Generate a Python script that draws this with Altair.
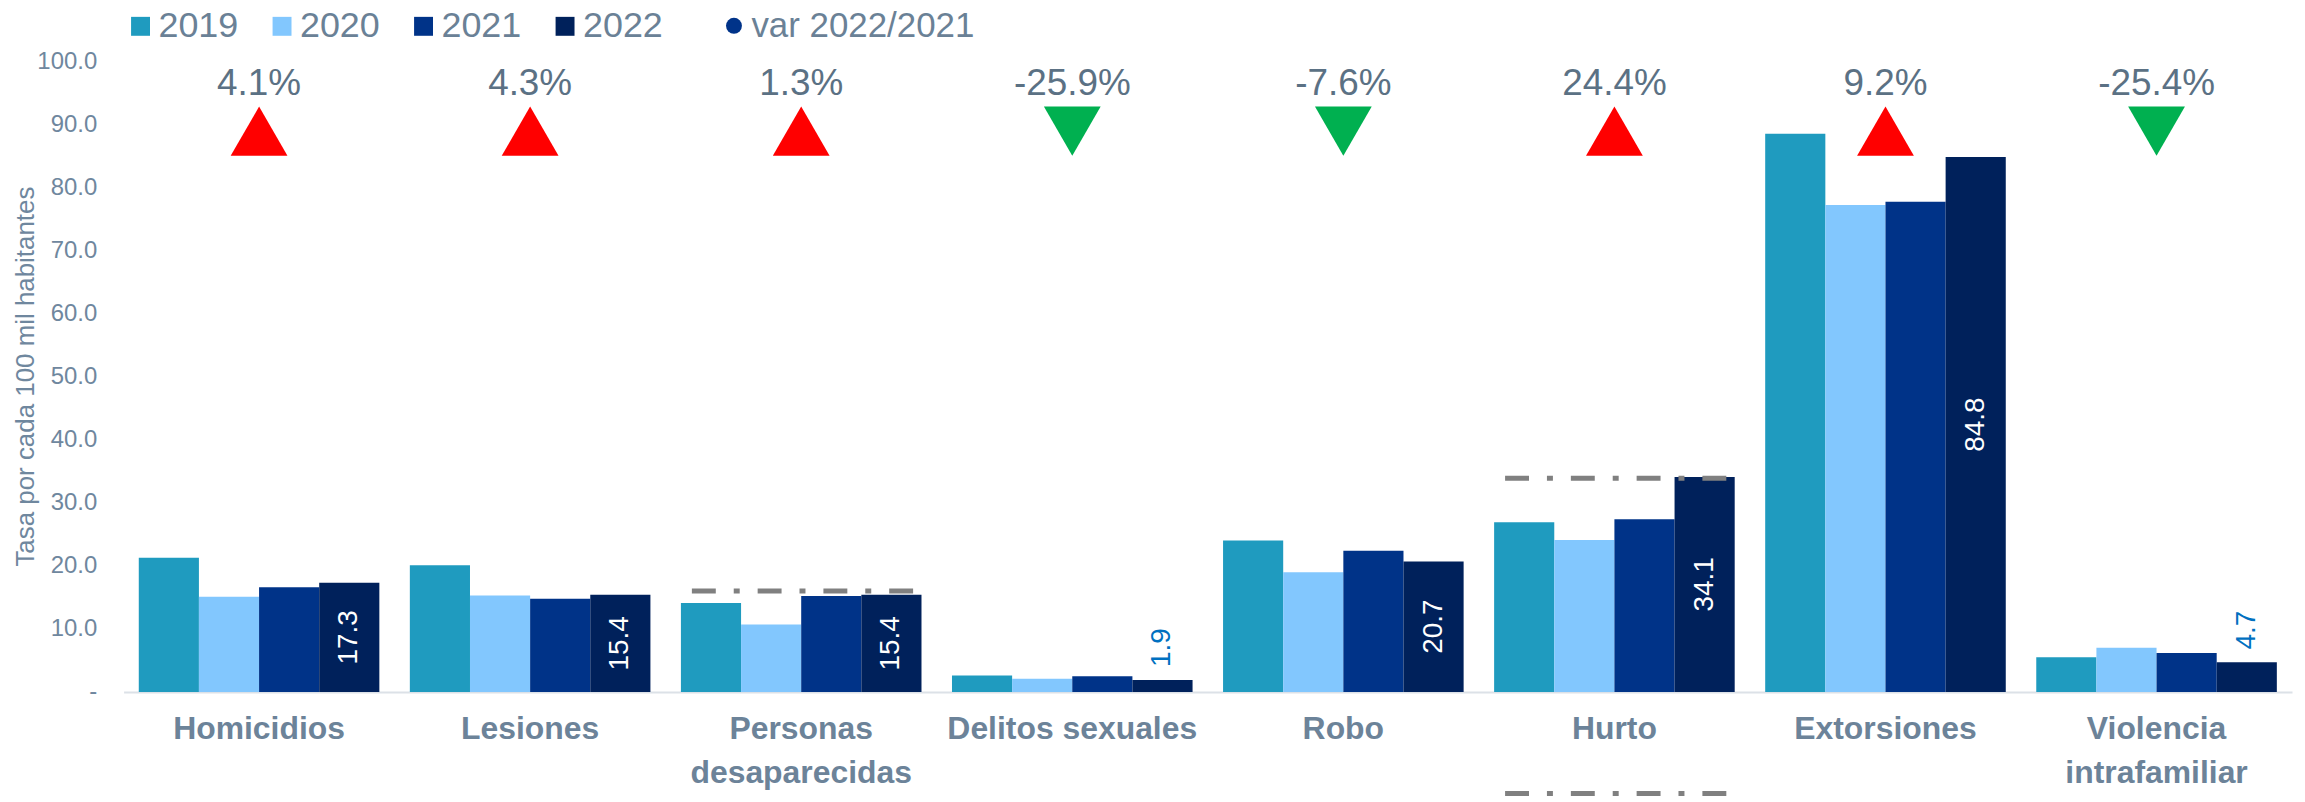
import altair as alt
import pandas as pd

cats = ["Homicidios", "Lesiones", "Personas\ndesaparecidas", "Delitos sexuales",
        "Robo", "Hurto", "Extorsiones", "Violencia\nintrafamiliar"]
years = ["2019", "2020", "2021", "2022"]
v2019 = [21.3, 20.1, 14.1, 2.6, 24.0, 26.9, 88.5, 5.5]
v2020 = [15.1, 15.3, 10.7, 2.1, 19.0, 24.1, 77.2, 7.0]
v2021 = [16.6, 14.8, 15.2, 2.5, 22.4, 27.4, 77.7, 6.2]
v2022 = [17.3, 15.4, 15.4, 1.9, 20.7, 34.1, 84.8, 4.7]
var_pct = [4.1, 4.3, 1.3, -25.9, -7.6, 24.4, 9.2, -25.4]
ref_cats = ["Personas\ndesaparecidas", "Hurto", "Hurto"]
ref_vals = [16.0, 33.9, -16.1]
colors = ["#1F9BBF", "#82C7FE", "#003388", "#00215B"]

rows = []
for yr, vals in zip(years, [v2019, v2020, v2021, v2022]):
    for c, v in zip(cats, vals):
        rows.append({"cat": c, "anio": yr, "v": v})
bars_df = pd.DataFrame(rows)
var_df = pd.DataFrame({"cat": cats, "var": var_pct})
ref_df = pd.DataFrame({"cat": ref_cats, "v": ref_vals})
leg_df = pd.DataFrame({"cat": [cats[0]], "lbl": ["var 2022/2021"]})

FONT = "Liberation Sans, Arial, Helvetica, sans-serif"
TICK_C = "#6F879E"
CAT_C = "#6C8399"
PCT_C = "#5B7184"
LEG_C = "#6A8196"

xscale = alt.Scale(domain=cats, paddingInner=0.1125, paddingOuter=0.056)
yscale = alt.Scale(domain=[0, 100], nice=False, zero=True)
offscale = alt.Scale(domain=years, paddingInner=0, paddingOuter=0)

x_axis = alt.Axis(
    title=None, labelAngle=0, ticks=False, domainColor="#DCE1E7", domainWidth=2,
    labelFont=FONT, labelFontSize=32, labelFontWeight="bold", labelColor=CAT_C,
    labelPadding=22, labelLineHeight=44, labelLimit=400,
    labelExpr="split(datum.label, '\\n')")

y_axis = alt.Axis(
    title="Tasa por cada 100 mil habitantes", values=list(range(0, 101, 10)),
    labelExpr="datum.value == 0 ? '-\u00a0\u00a0' : format(datum.value, '.1f')",
    ticks=False, domain=False, grid=False,
    labelFont=FONT, labelFontSize=24, labelColor=TICK_C, labelPadding=27,
    titleFont=FONT, titleFontSize=26, titleFontWeight="normal", titleColor=TICK_C,
    titleX=-98, titleY=316, titleAngle=270, titleAlign="center", titleBaseline="middle")


def X(**kw):
    return alt.X("cat:N", scale=xscale, sort=cats, axis=x_axis, **kw)


def Yf(field):
    return alt.Y(field, type="quantitative", scale=yscale, axis=y_axis,
                 title="Tasa por cada 100 mil habitantes")


def Yd(val):
    return alt.Y(datum=val, type="quantitative", scale=yscale, axis=y_axis,
                 title="Tasa por cada 100 mil habitantes")


XO = alt.XOffset("anio:N", sort=years, scale=offscale)

bars = alt.Chart(bars_df).mark_bar().encode(
    x=X(), xOffset=XO, y=Yf("v"),
    color=alt.Color("anio:N", sort=years, scale=alt.Scale(domain=years, range=colors),
                    legend=alt.Legend(title=None, orient="none", legendX=-1, legendY=-53,
                                      direction="horizontal", symbolType="square",
                                      symbolSize=361, symbolStrokeWidth=0,
                                      labelFont=FONT, labelFontSize=36, labelColor=LEG_C,
                                      labelOffset=0, columnPadding=25, padding=0,
                                      labelLimit=400)))

lab_in = alt.Chart(bars_df).transform_filter(
    "datum.anio == '2022' && datum.v >= 10"
).transform_calculate(
    mid="datum.v / 2", txt="format(datum.v, '.1f')"
).mark_text(angle=270, align="center", baseline="middle", font=FONT, fontSize=28,
            color="white").encode(
    x=X(), xOffset=XO, y=Yf("mid"), text="txt:N")

lab_out = alt.Chart(bars_df).transform_filter(
    "datum.anio == '2022' && datum.v < 10"
).transform_calculate(
    txt="format(datum.v, '.1f')"
).mark_text(angle=270, align="left", baseline="middle", dx=13, font=FONT, fontSize=28,
            color="#0070C0").encode(
    x=X(), xOffset=XO, y=Yf("v"), text="txt:N")

pct = alt.Chart(var_df).transform_calculate(
    txt="(datum['var'] < 0 ? '-' : '') + format(abs(datum['var']), '.1f') + '%'"
).mark_text(font=FONT, fontSize=37, color=PCT_C, baseline="alphabetic", align="center").encode(
    x=X(), y=Yd(94.6), text="txt:N")

tri_up = alt.Chart(var_df).transform_filter("datum['var'] > 0").mark_point(
    shape="triangle-up", filled=True, size=3249, color="#FF0000", opacity=1, strokeWidth=0
).encode(x=X(), y=Yd(88.9))

tri_dn = alt.Chart(var_df).transform_filter("datum['var'] < 0").mark_point(
    shape="triangle-down", filled=True, size=3249, color="#00B050", opacity=1, strokeWidth=0
).encode(x=X(), y=Yd(88.9))

refs = alt.Chart(ref_df).mark_rule(
    strokeDash=[24, 18, 6, 18], strokeWidth=5, color="#808080", strokeCap="butt",
    xOffset=11, x2Offset=-6
).encode(
    x=X(bandPosition=0),
    x2=alt.X2("cat:N", bandPosition=1),
    y=Yf("v"))

leg = alt.Chart(leg_df).mark_point(filled=True, opacity=0, color="#003389").encode(
    x=X(), y=Yd(50),
    shape=alt.Shape("lbl:N", scale=alt.Scale(domain=["var 2022/2021"], range=["circle"]),
                    legend=alt.Legend(title=None, orient="none", legendX=595, legendY=-53,
                                      symbolSize=256, symbolFillColor="#003389",
                                      symbolStrokeWidth=0, symbolOpacity=1,
                                      labelFont=FONT, labelFontSize=35, labelColor=LEG_C,
                                      labelOffset=0, padding=0, labelLimit=400)))

chart = alt.layer(bars, refs, lab_in, lab_out, pct, tri_up, tri_dn, leg).properties(
    width=2176, height=633,
    autosize=alt.AutoSizeParams(type="none"),
    padding={"left": 116, "top": 52, "right": 5, "bottom": 109},
    background="white",
).configure_view(stroke=None)

chart.save("out.html", embed_options={"renderer": "svg", "actions": False})
